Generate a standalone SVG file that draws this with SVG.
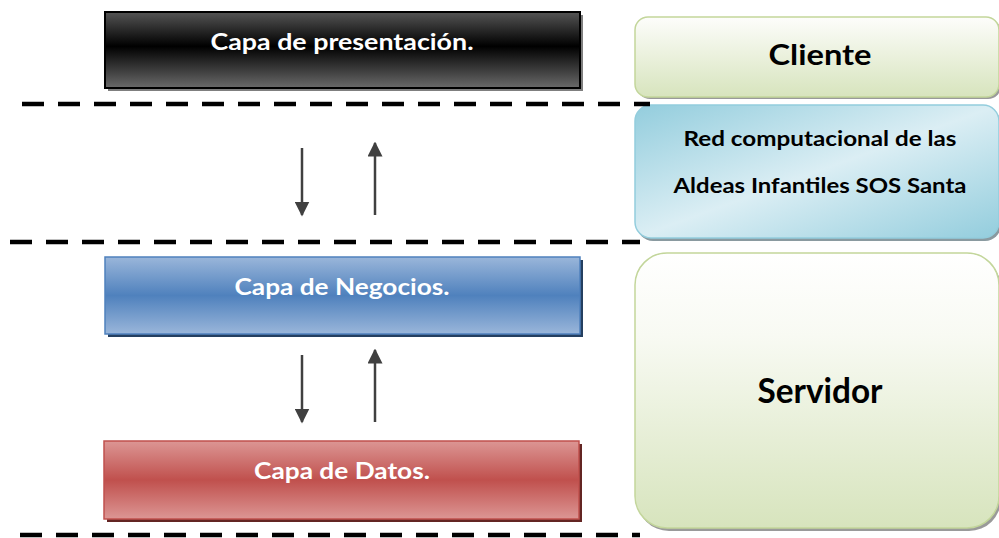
<svg xmlns="http://www.w3.org/2000/svg" width="999" height="538" viewBox="0 0 999 538">
<defs>
<linearGradient id="gBlack" x1="0" y1="0" x2="0" y2="1">
<stop offset="0" stop-color="#555"/><stop offset="0.45" stop-color="#000"/><stop offset="1" stop-color="#6a6a6a"/>
</linearGradient>
<linearGradient id="gBlue" x1="0" y1="0" x2="0" y2="1">
<stop offset="0" stop-color="#9ab6da"/><stop offset="0.5" stop-color="#4f81bd"/><stop offset="1" stop-color="#9ab6da"/>
</linearGradient>
<linearGradient id="gRed" x1="0" y1="0" x2="0" y2="1">
<stop offset="0" stop-color="#dc9694"/><stop offset="0.5" stop-color="#c0504d"/><stop offset="1" stop-color="#dc9694"/>
</linearGradient>
<linearGradient id="gGreen" x1="0" y1="0" x2="0" y2="1">
<stop offset="0" stop-color="#fdfdfb"/><stop offset="1" stop-color="#d7e4bd"/>
</linearGradient>
<linearGradient id="gServ" x1="0" y1="0" x2="0" y2="1">
<stop offset="0" stop-color="#ffffff"/><stop offset="0.3" stop-color="#f8faf3"/><stop offset="1" stop-color="#d7e4bd"/>
</linearGradient>
<linearGradient id="gNet" x1="0" y1="0" x2="1" y2="1">
<stop offset="0" stop-color="#93cddd"/><stop offset="0.5" stop-color="#dbeef4"/><stop offset="1" stop-color="#93cddd"/>
</linearGradient>
<marker id="ah" viewBox="0 0 10 10" refX="9" refY="5" markerWidth="15" markerHeight="15" markerUnits="userSpaceOnUse" orient="auto">
<path d="M0,0 L10,5 L0,10 z" fill="#404040"/>
</marker>
</defs>
<style>
.dash{stroke:#000;stroke-width:4.5;stroke-dasharray:22 14;fill:none}
.arr{stroke:#404040;stroke-width:2.5;fill:none;marker-end:url(#ah)}
.wt{font-family:Lato,"Open Sans",sans-serif;font-weight:bold;fill:#fff;text-anchor:middle}
.bt{font-family:Lato,"Open Sans",sans-serif;font-weight:bold;fill:#000;text-anchor:middle}
</style>
<rect width="999" height="538" fill="#fff"/>

<g id="presentacion">
<rect x="108" y="15" width="475" height="76" fill="#7f7f7f"/>
<rect x="105" y="12" width="475" height="76" fill="url(#gBlack)" stroke="#000" stroke-width="2"/>
<text class="wt" x="342" y="50" font-size="22" textLength="263" lengthAdjust="spacingAndGlyphs">Capa de presentación.</text>
</g>

<g id="negocios">
<rect x="108" y="260" width="475" height="77" fill="#243f60"/>
<rect x="105" y="257" width="475" height="77" fill="url(#gBlue)" stroke="#4f81bd" stroke-width="1.5"/>
<text class="wt" x="342" y="295" font-size="22" textLength="215" lengthAdjust="spacingAndGlyphs">Capa de Negocios.</text>
</g>

<g id="datos">
<rect x="107" y="444" width="475" height="78" fill="#632523"/>
<rect x="104" y="441" width="475" height="78" fill="url(#gRed)" stroke="#c0504d" stroke-width="1.5"/>
<text class="wt" x="342" y="479" font-size="22" textLength="176" lengthAdjust="spacingAndGlyphs">Capa de Datos.</text>
</g>

<g id="cliente">
<rect x="637" y="19" width="364" height="80" rx="13" fill="#9a9a9a"/>
<rect x="635" y="17" width="364" height="80" rx="13" fill="url(#gGreen)" stroke="#c3d69b" stroke-width="1.5"/>
<text class="bt" x="820" y="65" font-size="29" textLength="103" lengthAdjust="spacingAndGlyphs">Cliente</text>
</g>

<g id="red">
<rect x="637" y="108" width="364" height="133" rx="16" fill="#8a9aa0"/>
<rect x="635" y="105" width="364" height="133" rx="16" fill="url(#gNet)" stroke="#93cddd" stroke-width="1.5"/>
<text class="bt" x="820" y="146" font-size="20" textLength="273" lengthAdjust="spacingAndGlyphs">Red computacional de las</text>
<text class="bt" x="820" y="193" font-size="20" textLength="293" lengthAdjust="spacingAndGlyphs">Aldeas Infantiles SOS Santa</text>
</g>

<g id="servidor">
<rect x="637" y="256" width="364" height="275" rx="32" fill="#9a9a9a"/>
<rect x="635" y="253" width="364" height="275" rx="32" fill="url(#gServ)" stroke="#c3d69b" stroke-width="1.5"/>
<text class="bt" x="820" y="403" font-size="34" textLength="125" lengthAdjust="spacingAndGlyphs">Servidor</text>
</g>

<g id="connectors">
<line class="dash" x1="22" y1="104" x2="650" y2="104"/>
<line class="dash" x1="10" y1="242" x2="640" y2="242"/>
<line class="dash" x1="20" y1="535" x2="640" y2="535"/>
<line class="arr" x1="302" y1="148" x2="302" y2="215"/>
<line class="arr" x1="375" y1="215" x2="375" y2="143"/>
<line class="arr" x1="302" y1="355" x2="302" y2="422"/>
<line class="arr" x1="375" y1="422" x2="375" y2="350"/>
</g>
</svg>
